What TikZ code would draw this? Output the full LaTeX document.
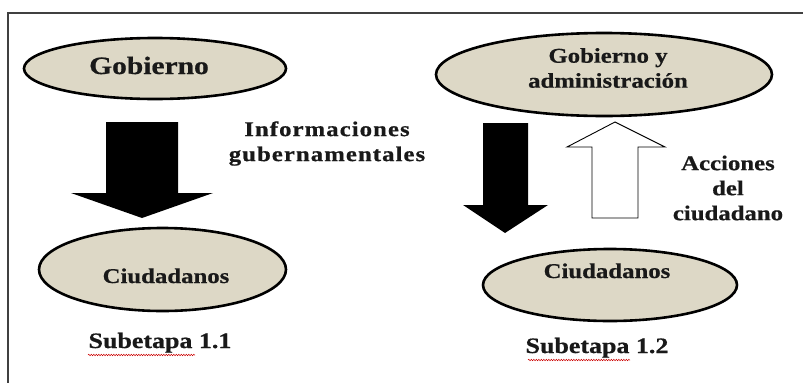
\documentclass[tikz,border=0pt]{standalone}
\usepackage{fontspec}
\setmainfont{Liberation Serif}
\newfontfamily\labelfont[FakeStretch=1.18,FakeBold=0.6]{Liberation Serif}
\usetikzlibrary{shapes.geometric,decorations.pathmorphing}
\definecolor{beige}{RGB}{221,216,198}
\begin{document}
\begin{tikzpicture}[x=1pt,y=-1pt,
  oval/.style={ellipse, draw=black, line width=2.6pt, fill=beige, inner sep=0pt},
  txt/.style={font=\labelfont\bfseries\fontsize{21}{25}\selectfont, inner sep=0pt, align=center, text=black!90},
  blockarrow/.style={fill=black},
  hollowarrow/.style={draw=black, fill=white, line width=0.9pt},
  squiggle/.style={draw=red!80!black, line width=0.5pt, decorate, decoration={snake, amplitude=0.7pt, segment length=2.5pt}},
  frame/.style={draw=black!75, line width=1.5pt}]
\useasboundingbox (0,0) rectangle (803,383);
\fill[white] (0,0) rectangle (803,383);
% frame
\draw[frame] (803,13) -- (8,13) -- (8,383);
% --- Subetapa 1.1 ---
\node[oval, minimum width=262pt, minimum height=61pt] (gob1) at (155,68.5) {};
\node[txt, anchor=base, font=\labelfont\bfseries\fontsize{25}{29}\selectfont] (gob1t) at (149,74) {Gobierno};
\node[oval, minimum width=247pt, minimum height=83pt] (ciu1) at (162.5,269.5) {};
\node[txt, anchor=base] (ciu1t) at (166,283) {Ciudadanos};
\fill[blockarrow] (106,122) -- (178,122) -- (178,193) -- (213,193) -- (142,218) -- (71,193) -- (106,193) -- cycle;
\node[txt, font=\labelfont\bfseries\fontsize{21}{25}\selectfont\addfontfeature{LetterSpace=5}] (info) at (327,143.5) {Informaciones\\gubernamentales};
\node[txt, anchor=base, font=\labelfont\bfseries\fontsize{22}{26}\selectfont] (sub1) at (160,348) {Subetapa 1.1};
\draw[squiggle] (88,355) -- (195,355);
% --- Subetapa 1.2 ---
\node[oval, minimum width=336pt, minimum height=83pt] (gob2) at (604,74.5) {};
\node[txt] (gob2t) at (608,68) {Gobierno y\\administración};
\node[oval, minimum width=254pt, minimum height=72pt] (ciu2) at (610,285) {};
\node[txt, anchor=base] (ciu2t) at (607,278) {Ciudadanos};
\fill[blockarrow] (483,123) -- (528,123) -- (528,205) -- (548,205) -- (505,233) -- (463,205) -- (483,205) -- cycle;
\draw[hollowarrow] (592,218) -- (638,218) -- (638,147) -- (665,147) -- (615,122) -- (567,147) -- (592,147) -- cycle;
\node[txt] (acc) at (728,188) {Acciones\\del\\ciudadano};
\node[txt, anchor=base, font=\labelfont\bfseries\fontsize{22}{26}\selectfont] (sub2) at (597,353) {Subetapa 1.2};
\draw[squiggle] (528,360) -- (630,360);
\end{tikzpicture}
\end{document}
